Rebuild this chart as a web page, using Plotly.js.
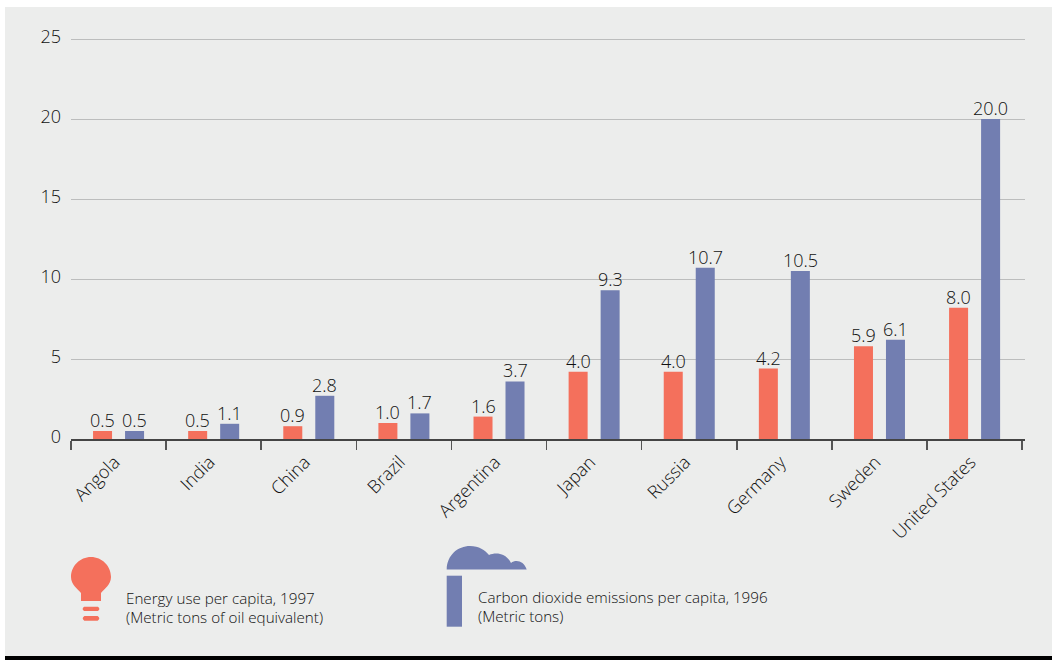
<!DOCTYPE html>
<html>
<head>
<meta charset="utf-8">
<script src="https://cdn.plot.ly/plotly-3.0.1.min.js"></script>
<style>html,body{margin:0;padding:0;background:#fff;overflow:hidden}</style>
</head>
<body>
<div id="chart" style="width:1052px;height:660px"></div>
<script>
const countries = ["Angola","India","China","Brazil","Argentina","Japan","Russia","Germany","Sweden","United States"];
const energyBars = [0.5,0.5,0.8,1.0,1.4,4.2,4.2,4.4,5.8,8.2];
const co2Bars = [0.5,0.95,2.7,1.6,3.6,9.3,10.7,10.5,6.2,20.0];
const energyLabels = ["0.5","0.5","0.9","1.0","1.6","4.0","4.0","4.2","5.9","8.0"];
const co2Labels = ["0.5","1.1","2.8","1.7","3.7","9.3","10.7","10.5","6.1","20.0"];
const yTicks = [0,5,10,15,20,25];

const W = 1052, H = 660, ML = 71, MR = 27, MT = 37, MB = 221;
const PW = W - ML - MR, PH = H - MT - MB;
const px = x => (x - ML) / PW;
const py = y => 1 - (y - MT) / PH;
const P = (x, y) => px(x).toFixed(5) + ' ' + py(y).toFixed(5);
const FONT = '"Open Sans", "Noto Sans", sans-serif';
const ORANGE = '#f4705c', BLUE = '#727eb1', BG = '#ecedec', INK = '#111111';

function rect(x0, y0, x1, y1, color, layer) {
  return {type:'rect', xref:'paper', yref:'paper', x0:px(x0), x1:px(x1), y0:py(y0), y1:py(y1),
          fillcolor:color, line:{width:0}, layer:layer || 'below'};
}
function path(d, color) {
  return {type:'path', xref:'paper', yref:'paper', path:d, fillcolor:color, line:{width:0}, layer:'below'};
}
function pill(x0, y0, x1, y1, color) {
  const r = (y1 - y0) / 2, m = (y0 + y1) / 2;
  return path('M ' + P(x0 + r, y0) + ' L ' + P(x1 - r, y0) + ' Q ' + P(x1 + r * 0.4, m) + ' ' + P(x1 - r, y1) +
    ' L ' + P(x0 + r, y1) + ' Q ' + P(x0 - r * 0.4, m) + ' ' + P(x0 + r, y0) + ' Z', color);
}
const bulb = 'M ' + P(81,601) + ' L ' + P(81,593) + ' C ' + P(78,589) + ' ' + P(71,585) + ' ' + P(71,577) +
  ' C ' + P(71,566) + ' ' + P(80,557) + ' ' + P(91,557) + ' C ' + P(102,557) + ' ' + P(111,566) + ' ' + P(111,577) +
  ' C ' + P(111,585) + ' ' + P(104,589) + ' ' + P(101,593) + ' L ' + P(101,601) + ' Z';
const cloud = 'M ' + P(446.7,569.5) + ' C ' + P(447,555) + ' ' + P(458,546) + ' ' + P(470,546) +
  ' C ' + P(479,546) + ' ' + P(485,550) + ' ' + P(489,555) + ' C ' + P(496,552) + ' ' + P(506,553) + ' ' + P(511,563) +
  ' C ' + P(516,559) + ' ' + P(524,561) + ' ' + P(526.7,569.5) + ' Z';

const shapes = [
  rect(5,7,1052,656,BG),
  rect(5,656,1052,660,'#000000'),
  path(bulb,ORANGE),
  pill(82,606.7,100,611,ORANGE),
  pill(82,616,100,620.7,ORANGE),
  path(cloud,BLUE),
  rect(446.7,575.7,462,626.7,BLUE)
];
function note(x, y, text) {
  return {xref:'paper', yref:'paper', x:px(x), y:py(y), xanchor:'left', yanchor:'middle', showarrow:false,
          text:text, align:'left', font:{family:FONT, size:15.2, weight:300, color:INK}};
}
function valueLabels(values, labels, shift) {
  return countries.map((c, i) => ({x:c, y:values[i], xref:'x', yref:'y', text:labels[i], showarrow:false,
    xanchor:'center', yanchor:'bottom', xshift:shift, yshift:-3,
    font:{family:FONT, size:18, weight:300, color:INK}}));
}
const data = [
  {type:'bar', x:countries, y:energyBars, name:'Energy use per capita, 1997', hoverinfo:'skip', marker:{color:ORANGE, line:{width:0}}},
  {type:'bar', x:countries, y:co2Bars, name:'Carbon dioxide emissions per capita, 1996', hoverinfo:'skip', marker:{color:BLUE, line:{width:0}}}
];
const layout = {
  width:W, height:H, margin:{l:ML, r:MR, t:MT, b:MB, pad:0},
  paper_bgcolor:'#ffffff', plot_bgcolor:'rgba(0,0,0,0)',
  showlegend:false, barmode:'group', bargap:0.327, bargroupgap:0.406,
  font:{family:FONT, color:INK},
  xaxis:{type:'category', range:[-0.5,9.53], tickson:'boundaries', ticks:'outside', ticklen:9, tickwidth:1.5,
    tickcolor:'#555555', showline:true, linecolor:'#444444', linewidth:1.5, showgrid:false, zeroline:false,
    tickangle:-45, tickfont:{family:FONT, size:18, weight:300, color:INK}, ticklabelstandoff:4, ticklabelshift:-4, automargin:false},
  yaxis:{range:[0,25.125], tickvals:yTicks, ticktext:yTicks.map(String), ticks:'', showline:false, zeroline:false,
    showgrid:true, gridcolor:'#bcbdbd', gridwidth:1, tickfont:{family:FONT, size:18, weight:300, color:INK},
    ticklabelstandoff:9, ticklabelshift:-2, automargin:false},
  shapes:shapes,
  annotations:[
    note(124,598,'Energy use per capita, 1997'),
    note(124,617,'(Metric tons of oil equivalent)'),
    note(476,597,'Carbon dioxide emissions per capita, 1996'),
    note(476,616,'(Metric tons)')
  ].concat(valueLabels(energyBars, energyLabels, -16), valueLabels(co2Bars, co2Labels, 16))
};
Plotly.newPlot('chart', data, layout, {displayModeBar:false, staticPlot:true});
</script>
</body>
</html>
